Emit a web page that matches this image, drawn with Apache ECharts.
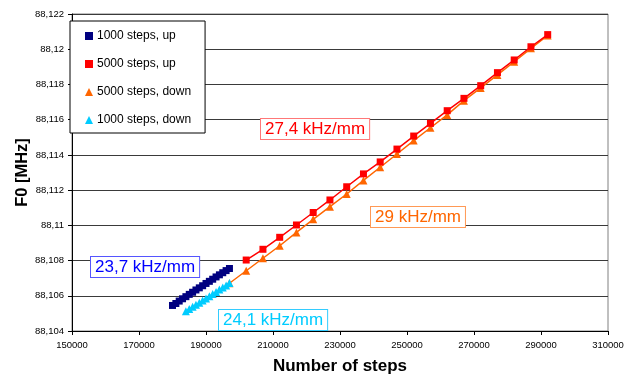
<!DOCTYPE html>
<html>
<head>
<meta charset="utf-8">
<script src="https://cdn.jsdelivr.net/npm/echarts@6/dist/echarts.min.js"></script>
<style>
  html, body { margin: 0; padding: 0; background: #fff; }
  #chart { width: 632px; height: 376px; }
</style>
</head>
<body>
<div id="chart"></div>
<script>
// Frequency F0 versus motor position for four sweep runs
const seriesNames = ['1000 steps, up', '5000 steps, up', '5000 steps, down', '1000 steps, down'];

const stepsUp1000 = [180000, 181000, 182000, 183000, 184000, 185000, 186000, 187000, 188000,
  189000, 190000, 191000, 192000, 193000, 194000, 195000, 196000, 197000];
const f0Up1000 = [88.10545, 88.10556, 88.10570, 88.10583, 88.10595, 88.10608, 88.10620, 88.10633, 88.10645,
  88.10657, 88.10670, 88.10682, 88.10694, 88.10707, 88.10719, 88.10731, 88.10743, 88.10755];

const stepsUp5000 = [202000, 207000, 212000, 217000, 222000, 227000, 232000, 237000, 242000, 247000,
  252000, 257000, 262000, 267000, 272000, 277000, 282000, 287000, 292000];
const f0Up5000 = [88.10803, 88.10864, 88.10932, 88.11002, 88.11073, 88.11144, 88.11219, 88.11292, 88.11360, 88.11433,
  88.11507, 88.11579, 88.11651, 88.11721, 88.11793, 88.11867, 88.11939, 88.12014, 88.12083];

const stepsDown5000 = [197000, 202000, 207000, 212000, 217000, 222000, 227000, 232000, 237000, 242000,
  247000, 252000, 257000, 262000, 267000, 272000, 277000, 282000, 287000, 292000];
const f0Down5000 = [88.10671, 88.10742, 88.10813, 88.10884, 88.10960, 88.11034, 88.11106, 88.11178, 88.11255, 88.11330,
  88.11405, 88.11481, 88.11554, 88.11627, 88.11708, 88.11780, 88.11854, 88.11929, 88.12005, 88.12078];

const stepsDown1000 = [184000, 185000, 186000, 187000, 188000, 189000, 190000, 191000, 192000,
  193000, 194000, 195000, 196000, 197000];
const f0Down1000 = [88.10512, 88.10525, 88.10537, 88.10549, 88.10561, 88.10573, 88.10585, 88.10598, 88.10610,
  88.10622, 88.10635, 88.10647, 88.10659, 88.10672];

// Slope annotations
const slopeLabels = ['23,7 kHz/mm', '27,4 kHz/mm', '29 kHz/mm', '24,1 kHz/mm'];

const FONT = 'Arial, "Liberation Sans", sans-serif';

function pairs(xs, ys) { return xs.map((x, i) => [x, ys[i]]); }

function boxLabel(text, left, top, color, border) {
  return {
    type: 'text', left: left, top: top, z: 100,
    style: {
      text: text, fill: color, font: '17px ' + FONT,
      backgroundColor: '#fff', borderColor: border, borderWidth: 1,
      padding: [2, 4, 1, 4]
    }
  };
}

const chart = echarts.init(document.getElementById('chart'), null, { renderer: 'canvas' });

chart.setOption({
  animation: false,
  backgroundColor: '#fff',
  textStyle: { fontFamily: FONT },
  grid: {
    left: 72, right: 24, top: 14, bottom: 45,
    containLabel: false, outerBoundsMode: 'none',
    show: true, borderColor: '#808080', borderWidth: 1, backgroundColor: 'transparent'
  },
  xAxis: {
    type: 'value', min: 150000, max: 310000, interval: 20000,
    name: 'Number of steps', nameLocation: 'middle', nameGap: 27,
    nameTextStyle: { fontSize: 17, fontWeight: 'bold', color: '#000', fontFamily: FONT },
    axisLine: { show: true, lineStyle: { color: '#000', width: 1 } },
    axisTick: { show: true, length: 4, inside: false, lineStyle: { color: '#000' } },
    axisLabel: { fontSize: 9.5, color: '#000', margin: 9, fontFamily: FONT, formatter: v => String(v) },
    splitLine: { show: false }
  },
  yAxis: {
    type: 'value', min: 88.104, max: 88.122, interval: 0.002,
    name: 'F0 [MHz]', nameLocation: 'middle', nameGap: 41, nameRotate: 90, nameMoveOverlap: false,
    nameTextStyle: { fontSize: 16.5, fontWeight: 'bold', color: '#000', fontFamily: FONT },
    axisLine: { show: true, lineStyle: { color: '#000', width: 1 } },
    axisTick: { show: true, length: 4, inside: false, lineStyle: { color: '#000' } },
    axisLabel: {
      fontSize: 9.5, color: '#000', margin: 8, fontFamily: FONT,
      formatter: v => String(parseFloat(v.toFixed(3))).replace('.', ',')
    },
    splitLine: { show: true, lineStyle: { color: '#3a3a3a', width: 1 } }
  },
  legend: {
    orient: 'vertical', left: 70, top: 21,
    padding: [8, 14, 6, 15], itemGap: 14,
    itemWidth: 8, itemHeight: 8,
    borderColor: '#000', borderWidth: 1, backgroundColor: '#fff',
    textStyle: { fontSize: 12, color: '#000', fontFamily: FONT, lineHeight: 14, padding: [0, 0, 0, -1] },
    data: [
      { name: seriesNames[0], icon: 'rect' },
      { name: seriesNames[1], icon: 'rect' },
      { name: seriesNames[2], icon: 'triangle' },
      { name: seriesNames[3], icon: 'triangle' }
    ],
    z: 50
  },
  series: [
    {
      name: seriesNames[1], type: 'line', data: pairs(stepsUp5000, f0Up5000),
      symbol: 'rect', symbolSize: 7, showAllSymbol: true,
      itemStyle: { color: '#ff0000' }, lineStyle: { color: '#ff0000', width: 1.5 }, z: 4
    },
    {
      name: seriesNames[2], type: 'line', data: pairs(stepsDown5000, f0Down5000),
      symbol: 'triangle', symbolSize: 8, showAllSymbol: true,
      itemStyle: { color: '#ff6600' }, lineStyle: { color: '#ff6600', width: 1.5 }, z: 3
    },
    {
      name: seriesNames[0], type: 'line', data: pairs(stepsUp1000, f0Up1000),
      symbol: 'rect', symbolSize: 7, showAllSymbol: true,
      itemStyle: { color: '#000080' }, lineStyle: { color: '#0000ff', width: 1.2 }, z: 5
    },
    {
      name: seriesNames[3], type: 'line', data: pairs(stepsDown1000, f0Down1000),
      symbol: 'triangle', symbolSize: 8, showAllSymbol: true,
      itemStyle: { color: '#00ccff' }, lineStyle: { color: '#00ccff', width: 1.2 }, z: 5
    }
  ],
  graphic: [
    boxLabel(slopeLabels[0], 90, 256, '#0000ff', '#5555ff'),
    boxLabel(slopeLabels[1], 260, 118, '#ff0000', '#ff7777'),
    boxLabel(slopeLabels[2], 370, 206, '#ff6600', '#ff9955'),
    boxLabel(slopeLabels[3], 218, 309, '#00ccff', '#33ccff')
  ]
});
</script>
</body>
</html>
